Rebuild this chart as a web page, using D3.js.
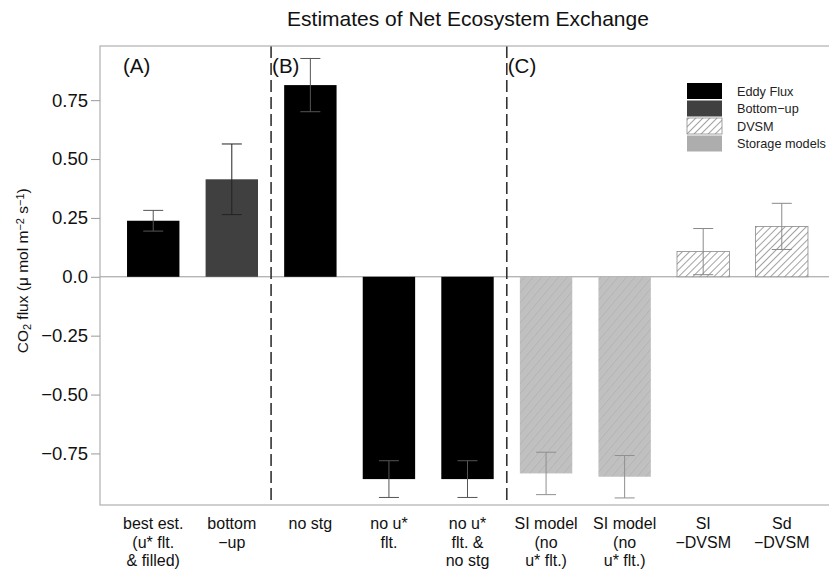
<!DOCTYPE html>
<html>
<head>
<meta charset="utf-8">
<script src="https://cdn.jsdelivr.net/npm/d3@7/dist/d3.min.js"></script>
<style>
body { margin: 0; background: #fff; }
text { font-family: "Liberation Sans", Arial, Helvetica, sans-serif; }
</style>
</head>
<body>
<svg id="chart" width="829" height="573"></svg>
<script>
// ---- data ----
const categories = ["best est.", "bottom-up", "no stg", "no u* flt.", "no u* flt. & no stg",
  "SI model (no u* flt.) 1", "SI model (no u* flt.) 2", "SI-DVSM", "Sd-DVSM"];
const categoryLabels = [
  ["best est.", "(u* flt.", "& filled)"],
  ["bottom", "\u2212up"],
  ["no stg"],
  ["no u*", "flt."],
  ["no u*", "flt. &", "no stg"],
  ["SI model", "(no", "u* flt.)"],
  ["SI model", "(no", "u* flt.)"],
  ["SI", "\u2212DVSM"],
  ["Sd", "\u2212DVSM"]
];
const fluxValues = [0.238, 0.414, 0.814, -0.859, -0.859, -0.835, -0.849, 0.107, 0.214];
const fluxErrors = [0.044, 0.150, 0.113, 0.078, 0.078, 0.090, 0.090, 0.098, 0.098];
const seriesType = ["Eddy Flux", "Bottom-up", "Eddy Flux", "Eddy Flux", "Eddy Flux",
  "Storage models", "Storage models", "DVSM", "DVSM"];
const legendLabels = ["Eddy Flux", "Bottom\u2212up", "DVSM", "Storage models"];
const legendKeys = ["Eddy Flux", "Bottom-up", "DVSM", "Storage models"];
const yTicks = [-0.75, -0.50, -0.25, 0.0, 0.25, 0.50, 0.75];
const yTickLabels = ["\u22120.75", "\u22120.50", "\u22120.25", "0.0", "0.25", "0.50", "0.75"];
const panelLabels = ["(A)", "(B)", "(C)"];
const panelStart = [0, 2, 5];

// ---- layout ----
const svg = d3.select("#chart");
const L = 100, T = 46, B = 505, R = 835;
const y = d3.scaleLinear().domain([-0.969, 0.98]).range([B, T]);
const x = d3.scaleBand().domain(categories).range([L, R])
  .paddingInner(0.333).paddingOuter(0.344);

const defs = svg.append("defs");
const hatch = defs.append("pattern").attr("id", "hatchDVSM")
  .attr("patternUnits", "userSpaceOnUse").attr("width", 5).attr("height", 5)
  .attr("patternTransform", "rotate(45)");
hatch.append("rect").attr("width", 5).attr("height", 5).attr("fill", "#fff");
hatch.append("line").attr("x1", 0).attr("y1", 0).attr("x2", 0).attr("y2", 5)
  .attr("stroke", "#555").attr("stroke-width", 1.1);
const hatch2 = defs.append("pattern").attr("id", "hatchStorage")
  .attr("patternUnits", "userSpaceOnUse").attr("width", 6.5).attr("height", 6.5)
  .attr("patternTransform", "rotate(40)");
hatch2.append("rect").attr("width", 6.5).attr("height", 6.5).attr("fill", "#c0c0c0");
hatch2.append("line").attr("x1", 0).attr("y1", 0).attr("x2", 0).attr("y2", 6.5)
  .attr("stroke", "#dedede").attr("stroke-width", 0.7);
hatch2.append("line").attr("x1", 1.1).attr("y1", 0).attr("x2", 1.1).attr("y2", 6.5)
  .attr("stroke", "#a8a8a8").attr("stroke-width", 0.7);

const fills = {
  "Eddy Flux": "#000000",
  "Bottom-up": "#404040",
  "DVSM": "url(#hatchDVSM)",
  "Storage models": "url(#hatchStorage)"
};
const legendFills = {
  "Eddy Flux": "#000000",
  "Bottom-up": "#404040",
  "DVSM": "url(#hatchDVSM)",
  "Storage models": "#adadad"
};
const strokes = {
  "Eddy Flux": "none",
  "Bottom-up": "none",
  "DVSM": "#8a8a8a",
  "Storage models": "none"
};
const errColor = {
  "Eddy Flux": "#555",
  "Bottom-up": "#222",
  "DVSM": "#8a8a8a",
  "Storage models": "#8f8f8f"
};

// title
svg.append("text").attr("x", 468).attr("y", 26).attr("text-anchor", "middle")
  .attr("font-size", 21).attr("fill", "#111").text("Estimates of Net Ecosystem Exchange");

// zero line
svg.append("line").attr("x1", L).attr("x2", R).attr("y1", y(0)).attr("y2", y(0))
  .attr("stroke", "#999").attr("stroke-width", 1);

// bars
const data = categories.map((c, i) => ({c, v: fluxValues[i], e: fluxErrors[i], t: seriesType[i]}));
svg.append("g").selectAll("rect").data(data).join("rect")
  .attr("x", d => x(d.c)).attr("width", x.bandwidth())
  .attr("y", d => y(Math.max(0, d.v)))
  .attr("height", d => Math.abs(y(d.v) - y(0)))
  .attr("fill", d => fills[d.t]).attr("stroke", d => strokes[d.t]).attr("stroke-width", 0.8);

// error bars
const eg = svg.append("g");
data.forEach(d => {
  const cx = x(d.c) + x.bandwidth() / 2;
  const col = errColor[d.t];
  eg.append("line").attr("x1", cx).attr("x2", cx).attr("y1", y(d.v - d.e)).attr("y2", y(d.v + d.e))
    .attr("stroke", col).attr("stroke-width", 1);
  [d.v - d.e, d.v + d.e].forEach(vv => {
    eg.append("line").attr("x1", cx - 10).attr("x2", cx + 10).attr("y1", y(vv)).attr("y2", y(vv))
      .attr("stroke", col).attr("stroke-width", 1);
  });
});

// separators (dashed)
[2, 5].forEach(i => {
  const xl = (x(categories[i - 1]) + x.bandwidth() + x(categories[i])) / 2;
  svg.append("line").attr("x1", xl).attr("x2", xl).attr("y1", T).attr("y2", B)
    .attr("stroke", "#333").attr("stroke-width", 1.6).attr("stroke-dasharray", "12,5");
});

// box
svg.append("rect").attr("x", L).attr("y", T).attr("width", R - L).attr("height", B - T)
  .attr("fill", "none").attr("stroke", "#b0b0b0").attr("stroke-width", 1.2);

// y axis
const yAxis = d3.axisLeft(y).tickValues(yTicks).tickSize(9).tickPadding(3)
  .tickFormat((d, i) => yTickLabels[i]);
const ga = svg.append("g").attr("transform", `translate(${L},0)`).call(yAxis);
ga.select(".domain").remove();
ga.selectAll(".tick line").attr("stroke", "#999");
ga.selectAll(".tick text").attr("font-size", 18.5).attr("fill", "#111")
  .attr("font-family", "Liberation Sans, Arial, sans-serif");

// y label
const yl = svg.append("text").attr("transform", `translate(28,${y(0) - 6}) rotate(-90)`)
  .attr("text-anchor", "middle").attr("font-size", 15.5).attr("fill", "#111");
yl.append("tspan").text("CO");
yl.append("tspan").attr("baseline-shift", "-25%").attr("font-size", 11).text("2");
yl.append("tspan").text(" flux (\u03bc mol m");
yl.append("tspan").attr("baseline-shift", "40%").attr("font-size", 11).text("\u22122");
yl.append("tspan").text(" s");
yl.append("tspan").attr("baseline-shift", "40%").attr("font-size", 11).text("\u22121");
yl.append("tspan").text(")");

// x labels
categories.forEach((c, i) => {
  const cx = x(c) + x.bandwidth() / 2;
  const t = svg.append("text").attr("text-anchor", "middle").attr("font-size", 16).attr("fill", "#111");
  categoryLabels[i].forEach((ln, j) => {
    t.append("tspan").attr("x", cx).attr("y", 529 + j * 18.5).text(ln);
  });
});

// panel labels
panelLabels.forEach((p, k) => {
  const i = panelStart[k];
  const px = k === 0 ? x(categories[0]) - 4 : (x(categories[i - 1]) + x.bandwidth() + x(categories[i])) / 2 + 1;
  svg.append("text").attr("x", px).attr("y", 73).attr("font-size", 20.5).attr("fill", "#111").text(p);
});

// legend
const lg = svg.append("g");
legendKeys.forEach((k, i) => {
  const ly = 83 + i * 17.5;
  lg.append("rect").attr("x", 687).attr("y", ly).attr("width", 35).attr("height", 16)
    .attr("fill", legendFills[k]).attr("stroke", k === "DVSM" ? "#8a8a8a" : "none").attr("stroke-width", 0.8);
  lg.append("text").attr("x", 737).attr("y", ly + 12.5).attr("font-size", 12.7).attr("fill", "#222")
    .text(legendLabels[i]);
});
</script>
</body>
</html>
